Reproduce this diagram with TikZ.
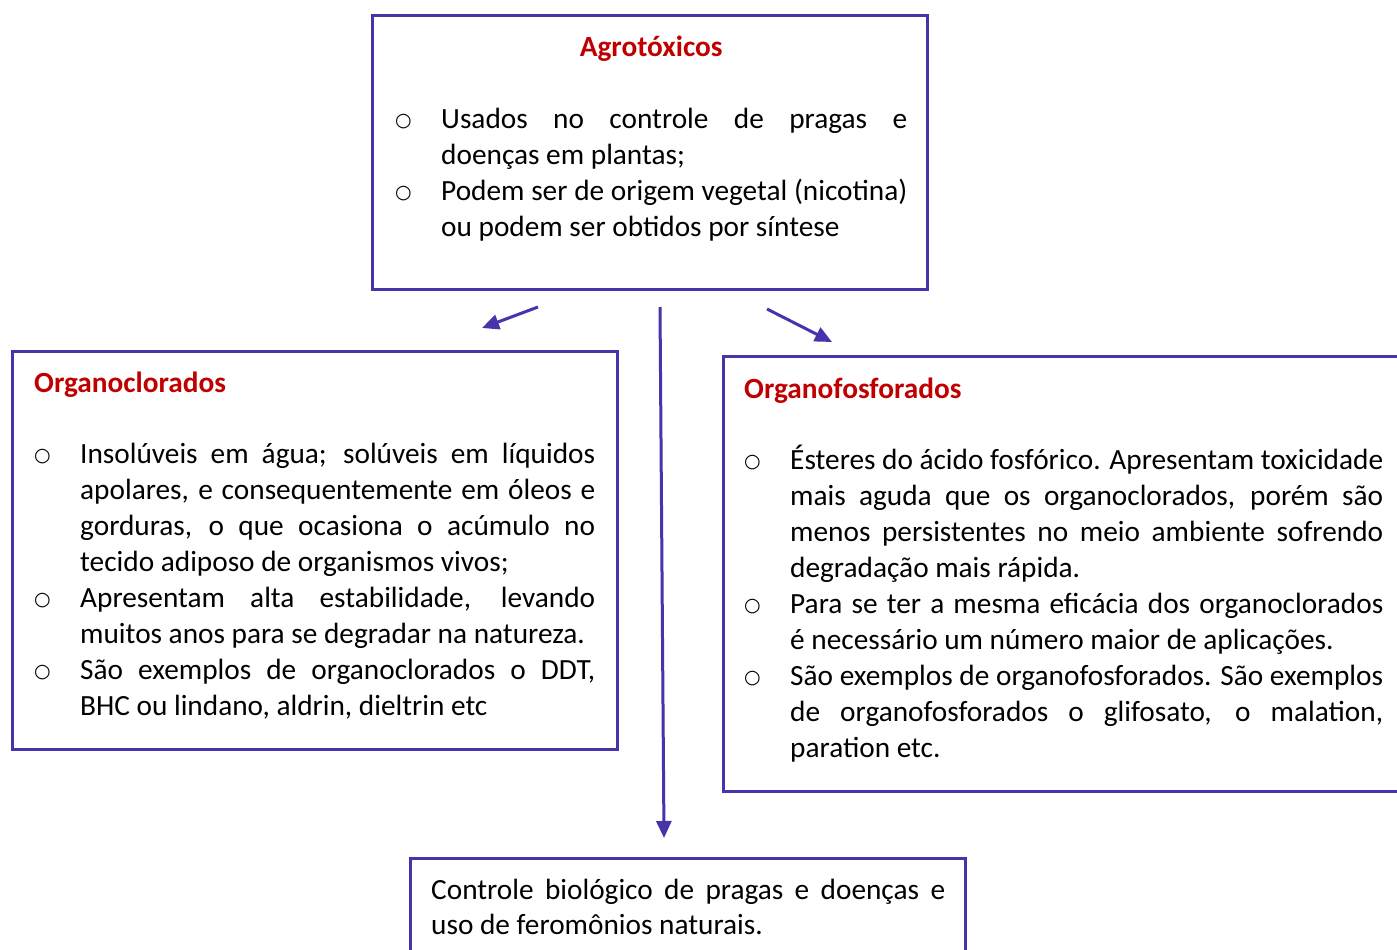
\documentclass[tikz,border=0pt]{standalone}
\usepackage{fontspec}
\setmainfont{Carlito}
\newfontfamily\bulletfont{DejaVu Sans}
\usetikzlibrary{arrows.meta}
\definecolor{bordc}{RGB}{70,52,170}
\definecolor{tred}{RGB}{192,0,0}
\newcommand\bmark{\raisebox{2.2pt}{\bulletfont\fontsize{19}{19}\selectfont ○}}
\newcommand\bitem[1]{\par\noindent\hangindent=46pt\hangafter=1\makebox[46pt][l]{\bmark}#1\par}
\newcommand\ttl[1]{{\color{tred}\bfseries #1\par}\vskip35.9pt}
\newcommand\txtsetup{\fontsize{29.3}{35.9}\selectfont\tolerance=9999\relax\hyphenpenalty=10000\relax\hbadness=10000\relax}
\tikzset{
  box/.style={draw=bordc, line width=3pt, rectangle, inner sep=0pt, anchor=north west},
  txt/.style={inner sep=0pt, anchor=base west, align=justify, font=\txtsetup},
  arr/.style={draw=bordc, line width=3pt, -{Triangle[length=17pt,width=15pt]}}
}
\begin{document}
\begin{tikzpicture}[x=1pt,y=-1pt]
\clip (0,0) rectangle (1397,950);
\fill[white] (0,0) rectangle (1397,950);
% boxes
\node[box, minimum width=555pt, minimum height=274pt] (topbox) at (371,14) {};
\node[box, minimum width=605pt, minimum height=398pt] (leftbox) at (11,350) {};
\node[box, minimum width=700pt, minimum height=435pt] (rightbox) at (722,355) {};
\node[box, minimum width=555pt, minimum height=150pt] (botbox) at (409,857) {};
% texts
\node[txt, text width=512pt] (toptxt) at (395,57) {%
{\centering\color{tred}\bfseries Agrotóxicos\par}\vskip35.9pt
\bitem{Usados no controle de pragas e\linebreak doenças em plantas;}
\bitem{Podem ser de origem vegetal (nicotina)\linebreak ou podem ser obtidos por síntese}};
\node[txt, text width=561pt] (lefttxt) at (34,392) {%
\ttl{Organoclorados}
\bitem{Insolúveis em água; solúveis em líquidos\linebreak apolares, e consequentemente em óleos e\linebreak gorduras, o que ocasiona o acúmulo no\linebreak tecido adiposo de organismos vivos;}
\bitem{Apresentam alta estabilidade, levando\linebreak muitos anos para se degradar na natureza.}
\bitem{São exemplos de organoclorados o DDT,\linebreak BHC ou lindano, aldrin, dieltrin etc}};
\node[txt, text width=639pt] (righttxt) at (744,398) {%
\ttl{Organofosforados}
\bitem{Ésteres do ácido fosfórico. Apresentam toxicidade\linebreak mais aguda que os organoclorados, porém são\linebreak menos persistentes no meio ambiente sofrendo\linebreak degradação mais rápida.}
\bitem{Para se ter a mesma eficácia dos organoclorados\linebreak é necessário um número maior de aplicações.}
\bitem{São exemplos de organofosforados. São exemplos\linebreak de organofosforados o glifosato, o malation,\linebreak paration etc.}};
\node[txt, text width=514pt] (bottxt) at (431,899) {%
Controle biológico de pragas e doenças e\linebreak uso de feromônios naturais.\par};
% arrows
\coordinate (la1) at (538,307);
\coordinate (la2) at (482,328);
\coordinate (ma1) at (660,307);
\coordinate (ma2) at (664,838);
\coordinate (ra1) at (767,309);
\coordinate (ra2) at (832,342);
\draw[arr] (la1) -- (la2);
\draw[arr] (ma1) -- (ma2);
\draw[arr] (ra1) -- (ra2);
\end{tikzpicture}
\end{document}
